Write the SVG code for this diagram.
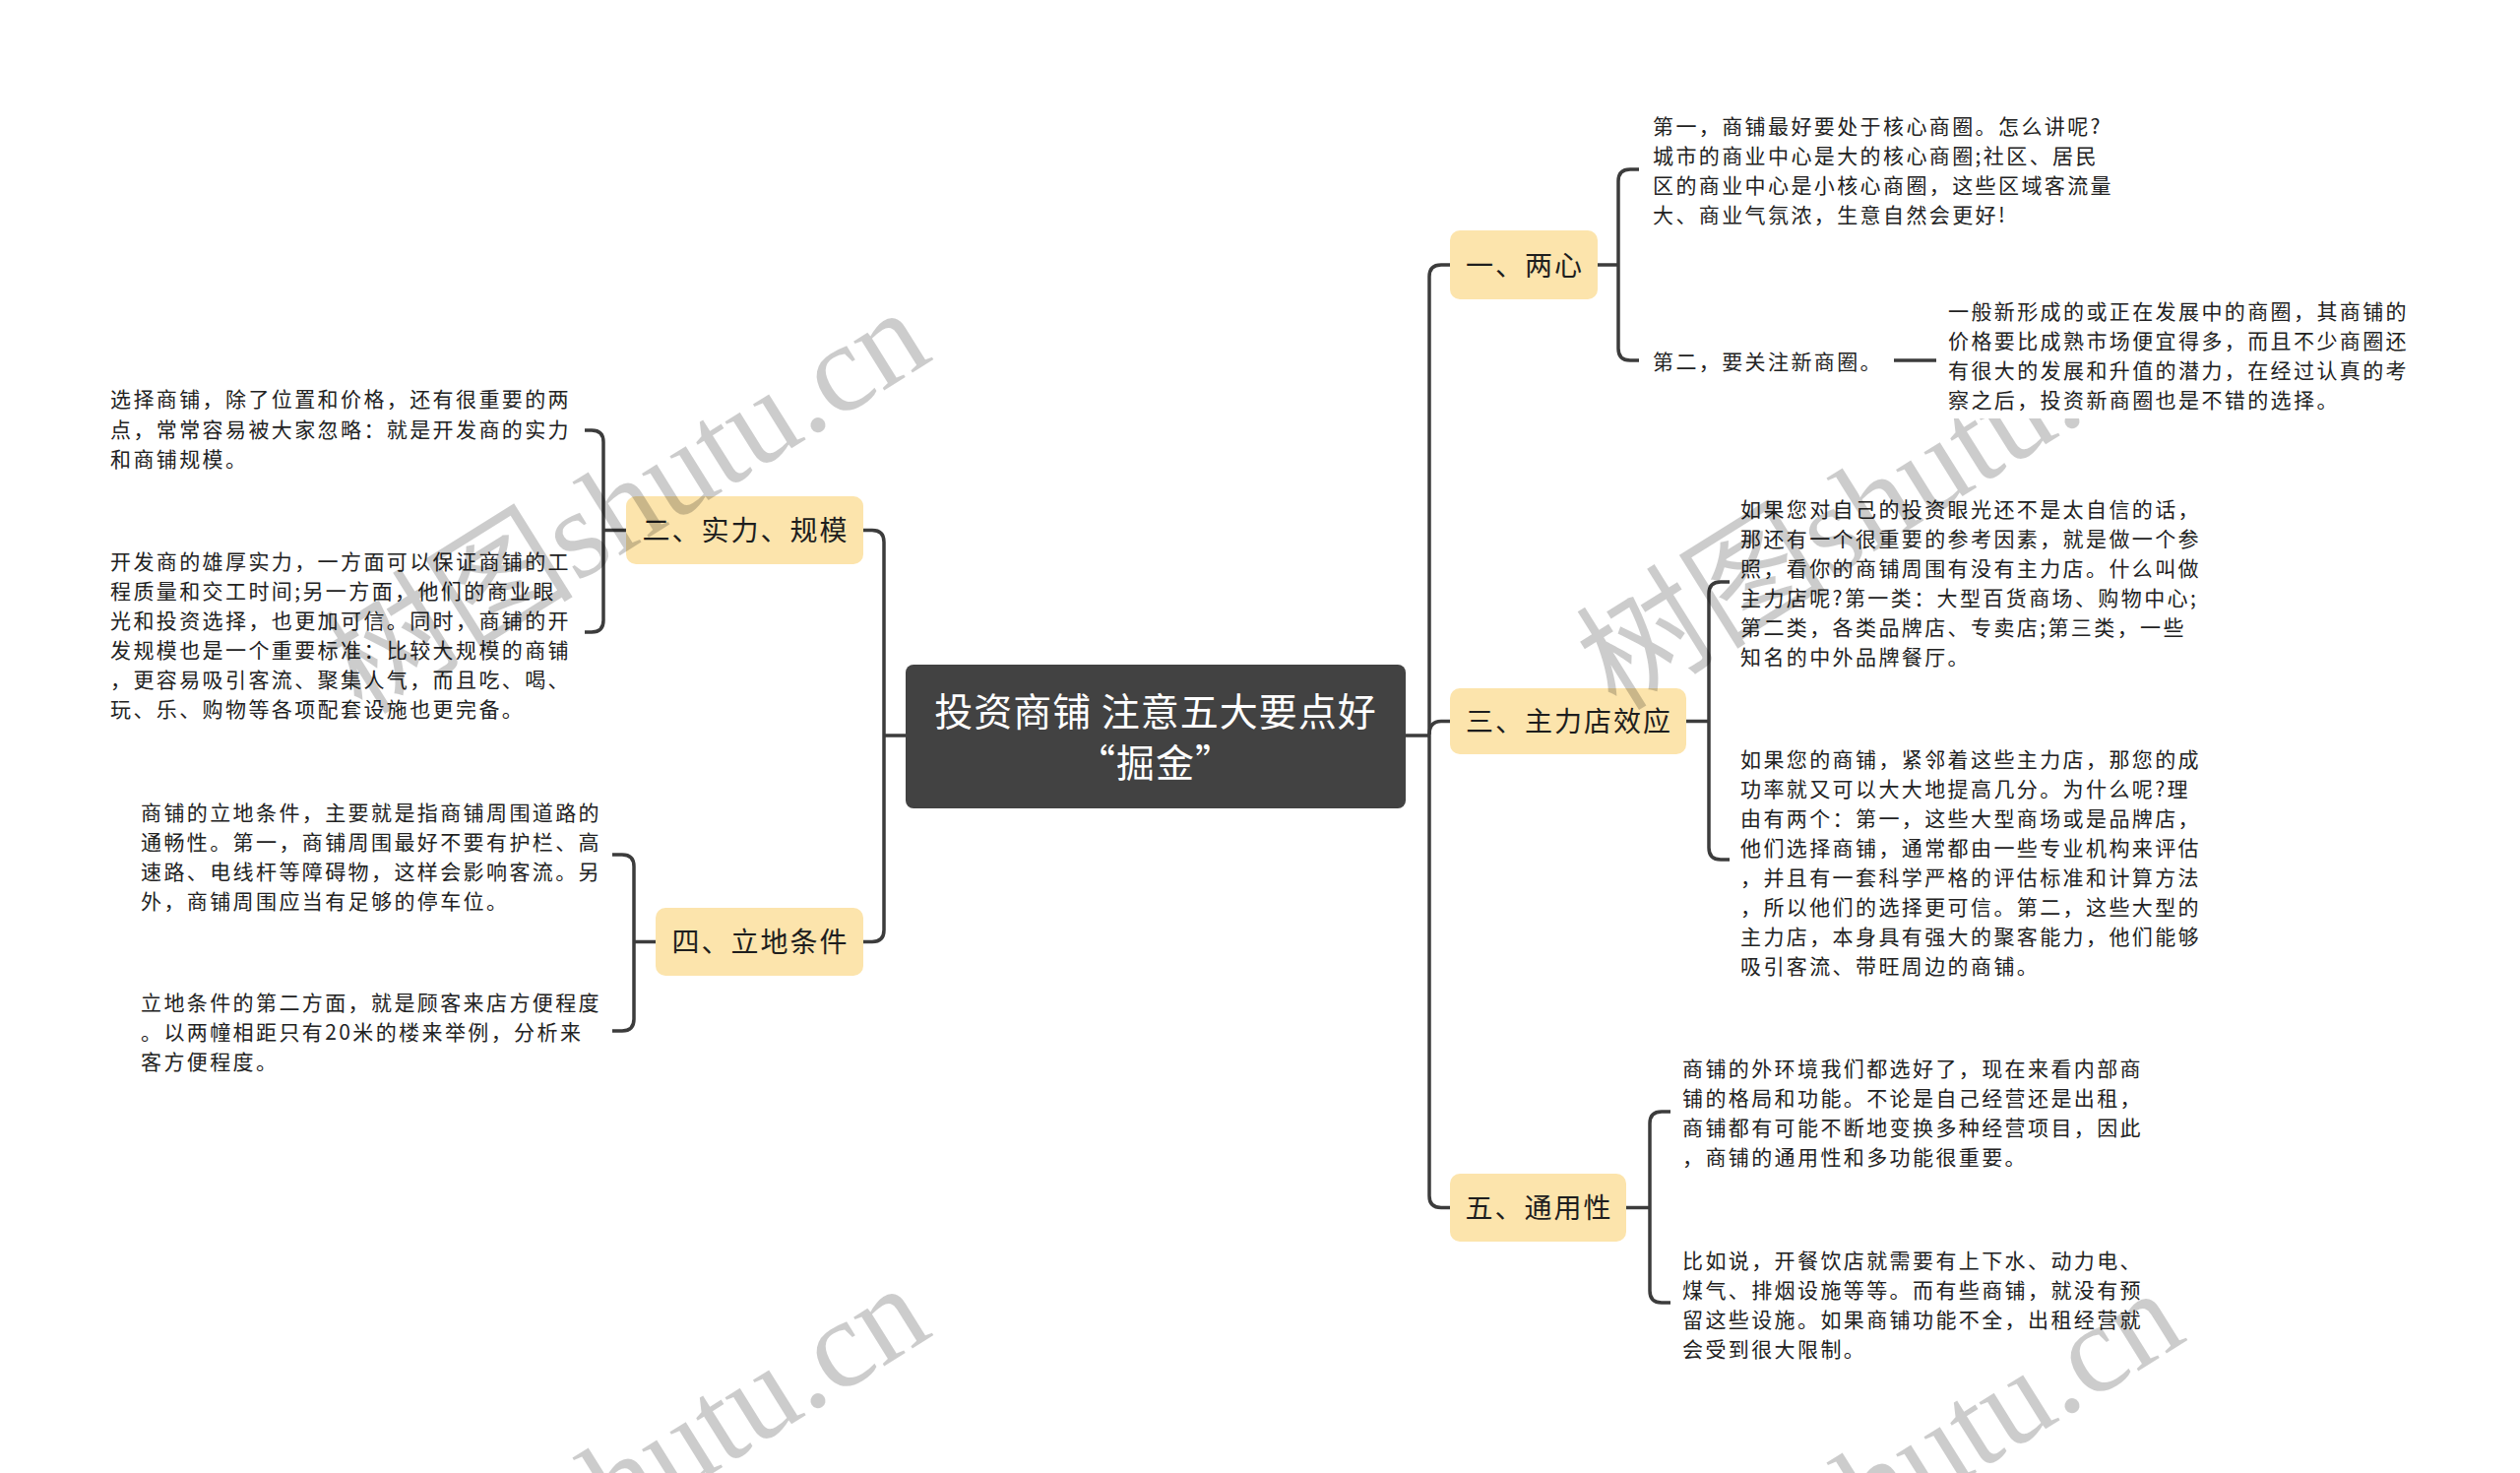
<svg xmlns="http://www.w3.org/2000/svg" width="2560" height="1496" viewBox="0 0 2560 1496">
<style>
.t{font-family:"Noto Sans CJK SC","Noto Sans",sans-serif;font-size:21px;letter-spacing:2.4px;fill:#222}
.nl{font-family:"Noto Sans CJK SC","Noto Sans",sans-serif;font-size:28px;letter-spacing:2px;fill:#1e1e1e;text-anchor:middle}
.title{font-family:"Noto Sans CJK SC","Noto Sans",sans-serif;font-size:39px;letter-spacing:1px;fill:#fff;text-anchor:middle}
.node{fill:#FCE4AC}
.ln{fill:none;stroke:#3c3c3c;stroke-width:3.5}
.wm{font-family:"Liberation Serif","Noto Sans CJK SC",serif;font-size:128px;fill:#000;fill-opacity:0.2;text-anchor:end}
</style>
<defs>
<clipPath id="c2" clipPathUnits="userSpaceOnUse"><path clip-rule="evenodd" d="M0 0H2560V1496H0Z M1970 290H2470V425H1970Z"/></clipPath>
</defs>
<rect width="2560" height="1496" fill="#fff"/>

<g id="connectors">
<path class="ln" d="M898 747H920"/>
<path class="ln" d="M877 538.5H886Q898 538.5 898 550.5V944.5Q898 956.5 886 956.5H877"/>
<path class="ln" d="M636 538.5H613"/>
<path class="ln" d="M594 437H601Q613 437 613 449V630Q613 642 601 642H594"/>
<path class="ln" d="M666 956.5H644"/>
<path class="ln" d="M622 868H632Q644 868 644 880V1035Q644 1047 632 1047H622"/>
<path class="ln" d="M1428 747H1452"/>
<path class="ln" d="M1473 269H1464Q1452 269 1452 281V1214.5Q1452 1226.5 1464 1226.5H1473"/>
<path class="ln" d="M1452 746Q1452 732.5 1464 732.5H1473"/>
<path class="ln" d="M1623 269H1644"/>
<path class="ln" d="M1665 172H1656Q1644 172 1644 184V354Q1644 366 1656 366H1665"/>
<path class="ln" d="M1924 366H1967"/>
<path class="ln" d="M1713 732.5H1736"/>
<path class="ln" d="M1757 591H1748Q1736 591 1736 603V861Q1736 873 1748 873H1757"/>
<path class="ln" d="M1652 1226.5H1676"/>
<path class="ln" d="M1697 1129H1688Q1676 1129 1676 1141V1311Q1676 1323 1688 1323H1697"/>
</g>

<g id="root">
<rect x="920" y="675" width="508" height="146" rx="8" fill="#424242"/>
<text class="title" x="1174" y="737">投资商铺 注意五大要点好</text>
<text class="title" x="1174" y="789">“掘金”</text>
</g>

<g id="n1">
<rect class="node" x="1473" y="234" width="150" height="70" rx="10"/>
<text class="nl" x="1549" y="279.5">一、两心</text>
</g>
<g id="n1a">
<text class="t"><tspan x="1679" y="136">第一，商铺最好要处于核心商圈。怎么讲呢?</tspan><tspan x="1679" y="166">城市的商业中心是大的核心商圈;社区、居民</tspan><tspan x="1679" y="196">区的商业中心是小核心商圈，这些区域客流量</tspan><tspan x="1679" y="226">大、商业气氛浓，生意自然会更好!</tspan></text>
</g>
<g id="n1b">
<text class="t" x="1679" y="375">第二，要关注新商圈。</text>
</g>
<g id="n1b1">
<text class="t"><tspan x="1979" y="324">一般新形成的或正在发展中的商圈，其商铺的</tspan><tspan x="1979" y="354">价格要比成熟市场便宜得多，而且不少商圈还</tspan><tspan x="1979" y="384">有很大的发展和升值的潜力，在经过认真的考</tspan><tspan x="1979" y="414">察之后，投资新商圈也是不错的选择。</tspan></text>
</g>

<g id="n2">
<rect class="node" x="636" y="504" width="241" height="69" rx="10"/>
<text class="nl" x="757.5" y="549">二、实力、规模</text>
</g>
<g id="n2a">
<text class="t"><tspan x="112" y="413">选择商铺，除了位置和价格，还有很重要的两</tspan><tspan x="112" y="443.5">点，常常容易被大家忽略：就是开发商的实力</tspan><tspan x="112" y="474">和商铺规模。</tspan></text>
</g>
<g id="n2b">
<text class="t"><tspan x="112" y="578">开发商的雄厚实力，一方面可以保证商铺的工</tspan><tspan x="112" y="608">程质量和交工时间;另一方面，他们的商业眼</tspan><tspan x="112" y="638">光和投资选择，也更加可信。同时，商铺的开</tspan><tspan x="112" y="668">发规模也是一个重要标准：比较大规模的商铺</tspan><tspan x="112" y="698">，更容易吸引客流、聚集人气，而且吃、喝、</tspan><tspan x="112" y="728">玩、乐、购物等各项配套设施也更完备。</tspan></text>
</g>

<g id="n3">
<rect class="node" x="1473" y="699" width="240" height="67" rx="10"/>
<text class="nl" x="1594" y="743">三、主力店效应</text>
</g>
<g id="n3a">
<text class="t"><tspan x="1768" y="525">如果您对自己的投资眼光还不是太自信的话，</tspan><tspan x="1768" y="555">那还有一个很重要的参考因素，就是做一个参</tspan><tspan x="1768" y="585">照，看你的商铺周围有没有主力店。什么叫做</tspan><tspan x="1768" y="615">主力店呢?第一类：大型百货商场、购物中心;</tspan><tspan x="1768" y="645">第二类，各类品牌店、专卖店;第三类，一些</tspan><tspan x="1768" y="675">知名的中外品牌餐厅。</tspan></text>
</g>
<g id="n3b">
<text class="t"><tspan x="1768" y="779">如果您的商铺，紧邻着这些主力店，那您的成</tspan><tspan x="1768" y="809">功率就又可以大大地提高几分。为什么呢?理</tspan><tspan x="1768" y="839">由有两个：第一，这些大型商场或是品牌店，</tspan><tspan x="1768" y="869">他们选择商铺，通常都由一些专业机构来评估</tspan><tspan x="1768" y="899">，并且有一套科学严格的评估标准和计算方法</tspan><tspan x="1768" y="929">，所以他们的选择更可信。第二，这些大型的</tspan><tspan x="1768" y="959">主力店，本身具有强大的聚客能力，他们能够</tspan><tspan x="1768" y="989">吸引客流、带旺周边的商铺。</tspan></text>
</g>

<g id="n4">
<rect class="node" x="666" y="922" width="211" height="69" rx="10"/>
<text class="nl" x="772.5" y="967">四、立地条件</text>
</g>
<g id="n4a">
<text class="t"><tspan x="143" y="833">商铺的立地条件，主要就是指商铺周围道路的</tspan><tspan x="143" y="863">通畅性。第一，商铺周围最好不要有护栏、高</tspan><tspan x="143" y="893">速路、电线杆等障碍物，这样会影响客流。另</tspan><tspan x="143" y="923">外，商铺周围应当有足够的停车位。</tspan></text>
</g>
<g id="n4b">
<text class="t"><tspan x="143" y="1026">立地条件的第二方面，就是顾客来店方便程度</tspan><tspan x="143" y="1056">。以两幢相距只有20米的楼来举例，分析来</tspan><tspan x="143" y="1086">客方便程度。</tspan></text>
</g>

<g id="n5">
<rect class="node" x="1473" y="1192" width="179" height="69" rx="10"/>
<text class="nl" x="1563.5" y="1237">五、通用性</text>
</g>
<g id="n5a">
<text class="t"><tspan x="1709" y="1093">商铺的外环境我们都选好了，现在来看内部商</tspan><tspan x="1709" y="1123">铺的格局和功能。不论是自己经营还是出租，</tspan><tspan x="1709" y="1153">商铺都有可能不断地变换多种经营项目，因此</tspan><tspan x="1709" y="1183">，商铺的通用性和多功能很重要。</tspan></text>
</g>
<g id="n5b">
<text class="t"><tspan x="1709" y="1288">比如说，开餐饮店就需要有上下水、动力电、</tspan><tspan x="1709" y="1318">煤气、排烟设施等等。而有些商铺，就没有预</tspan><tspan x="1709" y="1348">留这些设施。如果商铺功能不全，出租经营就</tspan><tspan x="1709" y="1378">会受到很大限制。</tspan></text>
</g>

<g id="watermarks">
<text class="wm" transform="translate(950,364) rotate(-32)">树图shutu.cn</text>
<g clip-path="url(#c2)"><text class="wm" transform="translate(2224,360) rotate(-32)">树图shutu.cn</text></g>
<text class="wm" transform="translate(950,1355) rotate(-32)">树图shutu.cn</text>
<text class="wm" transform="translate(2224,1360) rotate(-32)">树图shutu.cn</text>
</g>
</svg>
